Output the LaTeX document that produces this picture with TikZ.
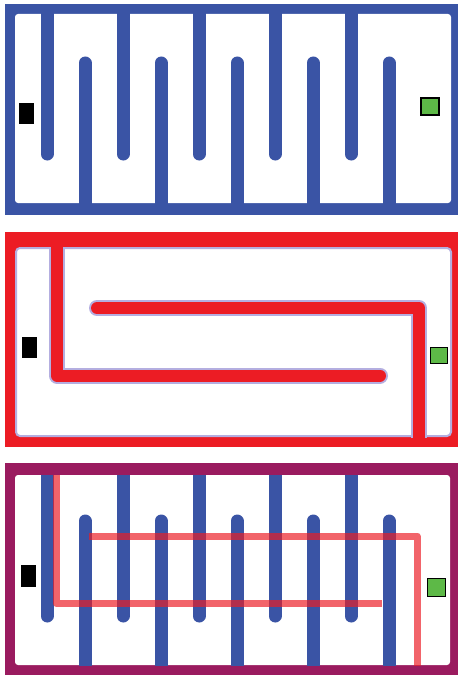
\documentclass[tikz,border=0pt]{standalone}
\definecolor{combblue}{HTML}{3A54A5}
\definecolor{heatred}{HTML}{EC1C24}
\definecolor{framepurple}{HTML}{9A1B5F}
\definecolor{padgreen}{HTML}{5DB947}
\definecolor{halo}{HTML}{B4AEE0}
\begin{document}
\begin{tikzpicture}[
    x=1pt,y=-1pt,
    comb/.style={draw=combblue, line width=13pt, line cap=round},
    heater/.style={draw=heatred, line width=12pt, line cap=round, line join=round},
    heaterhalo/.style={draw=halo, line width=16pt, line cap=round, line join=round},
    thinheater/.style={draw=heatred, draw opacity=0.68, line width=7pt, line join=round},
    pad/.style={draw=black, line width=1.6pt, inner sep=0pt, outer sep=0pt}
]
    \useasboundingbox (0,0) rectangle (458,677);

    % top panel: interdigitated comb
    \fill[combblue] (5,4) rectangle (458,215);
    \fill[white, rounded corners=3pt] (15,14) rectangle (451,203);
    \begin{scope}
        \clip (15,14) rectangle (451,203);
        \draw[comb] (47,0) -- (47,154);
        \draw[comb] (123,0) -- (123,154);
        \draw[comb] (199,0) -- (199,154);
        \draw[comb] (275,0) -- (275,154);
        \draw[comb] (351,0) -- (351,154);
        \draw[comb] (85,220) -- (85,63);
        \draw[comb] (161,220) -- (161,63);
        \draw[comb] (237,220) -- (237,63);
        \draw[comb] (313,220) -- (313,63);
        \draw[comb] (389,220) -- (389,63);
    \end{scope}
    \node[pad, fill=black, minimum width=14pt, minimum height=20pt] (blackpad1) at (26.5,113.5) {};
    \node[pad, fill=padgreen, minimum width=18pt, minimum height=17pt] (greenpad1) at (430,106.5) {};

    % middle panel: heater
    \fill[heatred] (5,232) rectangle (458,447);
    \draw[halo, line width=2pt, fill=white, rounded corners=4pt] (16,248) rectangle (451,436);
    \begin{scope}
        \clip (15,247) rectangle (452,437);
        \draw[heaterhalo] (57,230) -- (57,375.5) -- (380,375.5);
        \draw[heaterhalo] (97,308) -- (419,308) -- (419,460);
        \draw[heater] (57,230) -- (57,375.5) -- (380,375.5);
        \draw[heater] (97,308) -- (419,308) -- (419,460);
    \end{scope}
    \node[pad, fill=black, minimum width=14pt, minimum height=20pt] (blackpad2) at (29.5,347.5) {};
    \node[pad, fill=padgreen, minimum width=17pt, minimum height=16pt] (greenpad2) at (439,355.5) {};

    % bottom panel: comb with heater on top
    \fill[framepurple] (5,463) rectangle (458,675);
    \fill[white, rounded corners=3pt] (15,475) rectangle (450,665);
    \begin{scope}
        \clip (15,475) rectangle (450,665);
        \draw[comb] (47,460) -- (47,616);
        \draw[comb] (123,460) -- (123,616);
        \draw[comb] (199,460) -- (199,616);
        \draw[comb] (275,460) -- (275,616);
        \draw[comb] (351,460) -- (351,616);
        \draw[comb] (85,680) -- (85,521);
        \draw[comb] (161,680) -- (161,521);
        \draw[comb] (237,680) -- (237,521);
        \draw[comb] (313,680) -- (313,521);
        \draw[comb] (389,680) -- (389,521);
        \draw[thinheater] (56,470) -- (56,603.5) -- (382,603.5);
        \draw[thinheater] (89,536) -- (417,536) -- (417,670);
    \end{scope}
    \node[pad, fill=black, minimum width=14pt, minimum height=21pt] (blackpad3) at (28.5,576) {};
    \node[pad, fill=padgreen, minimum width=18pt, minimum height=18pt] (greenpad3) at (436.5,587.5) {};
\end{tikzpicture}
\end{document}
